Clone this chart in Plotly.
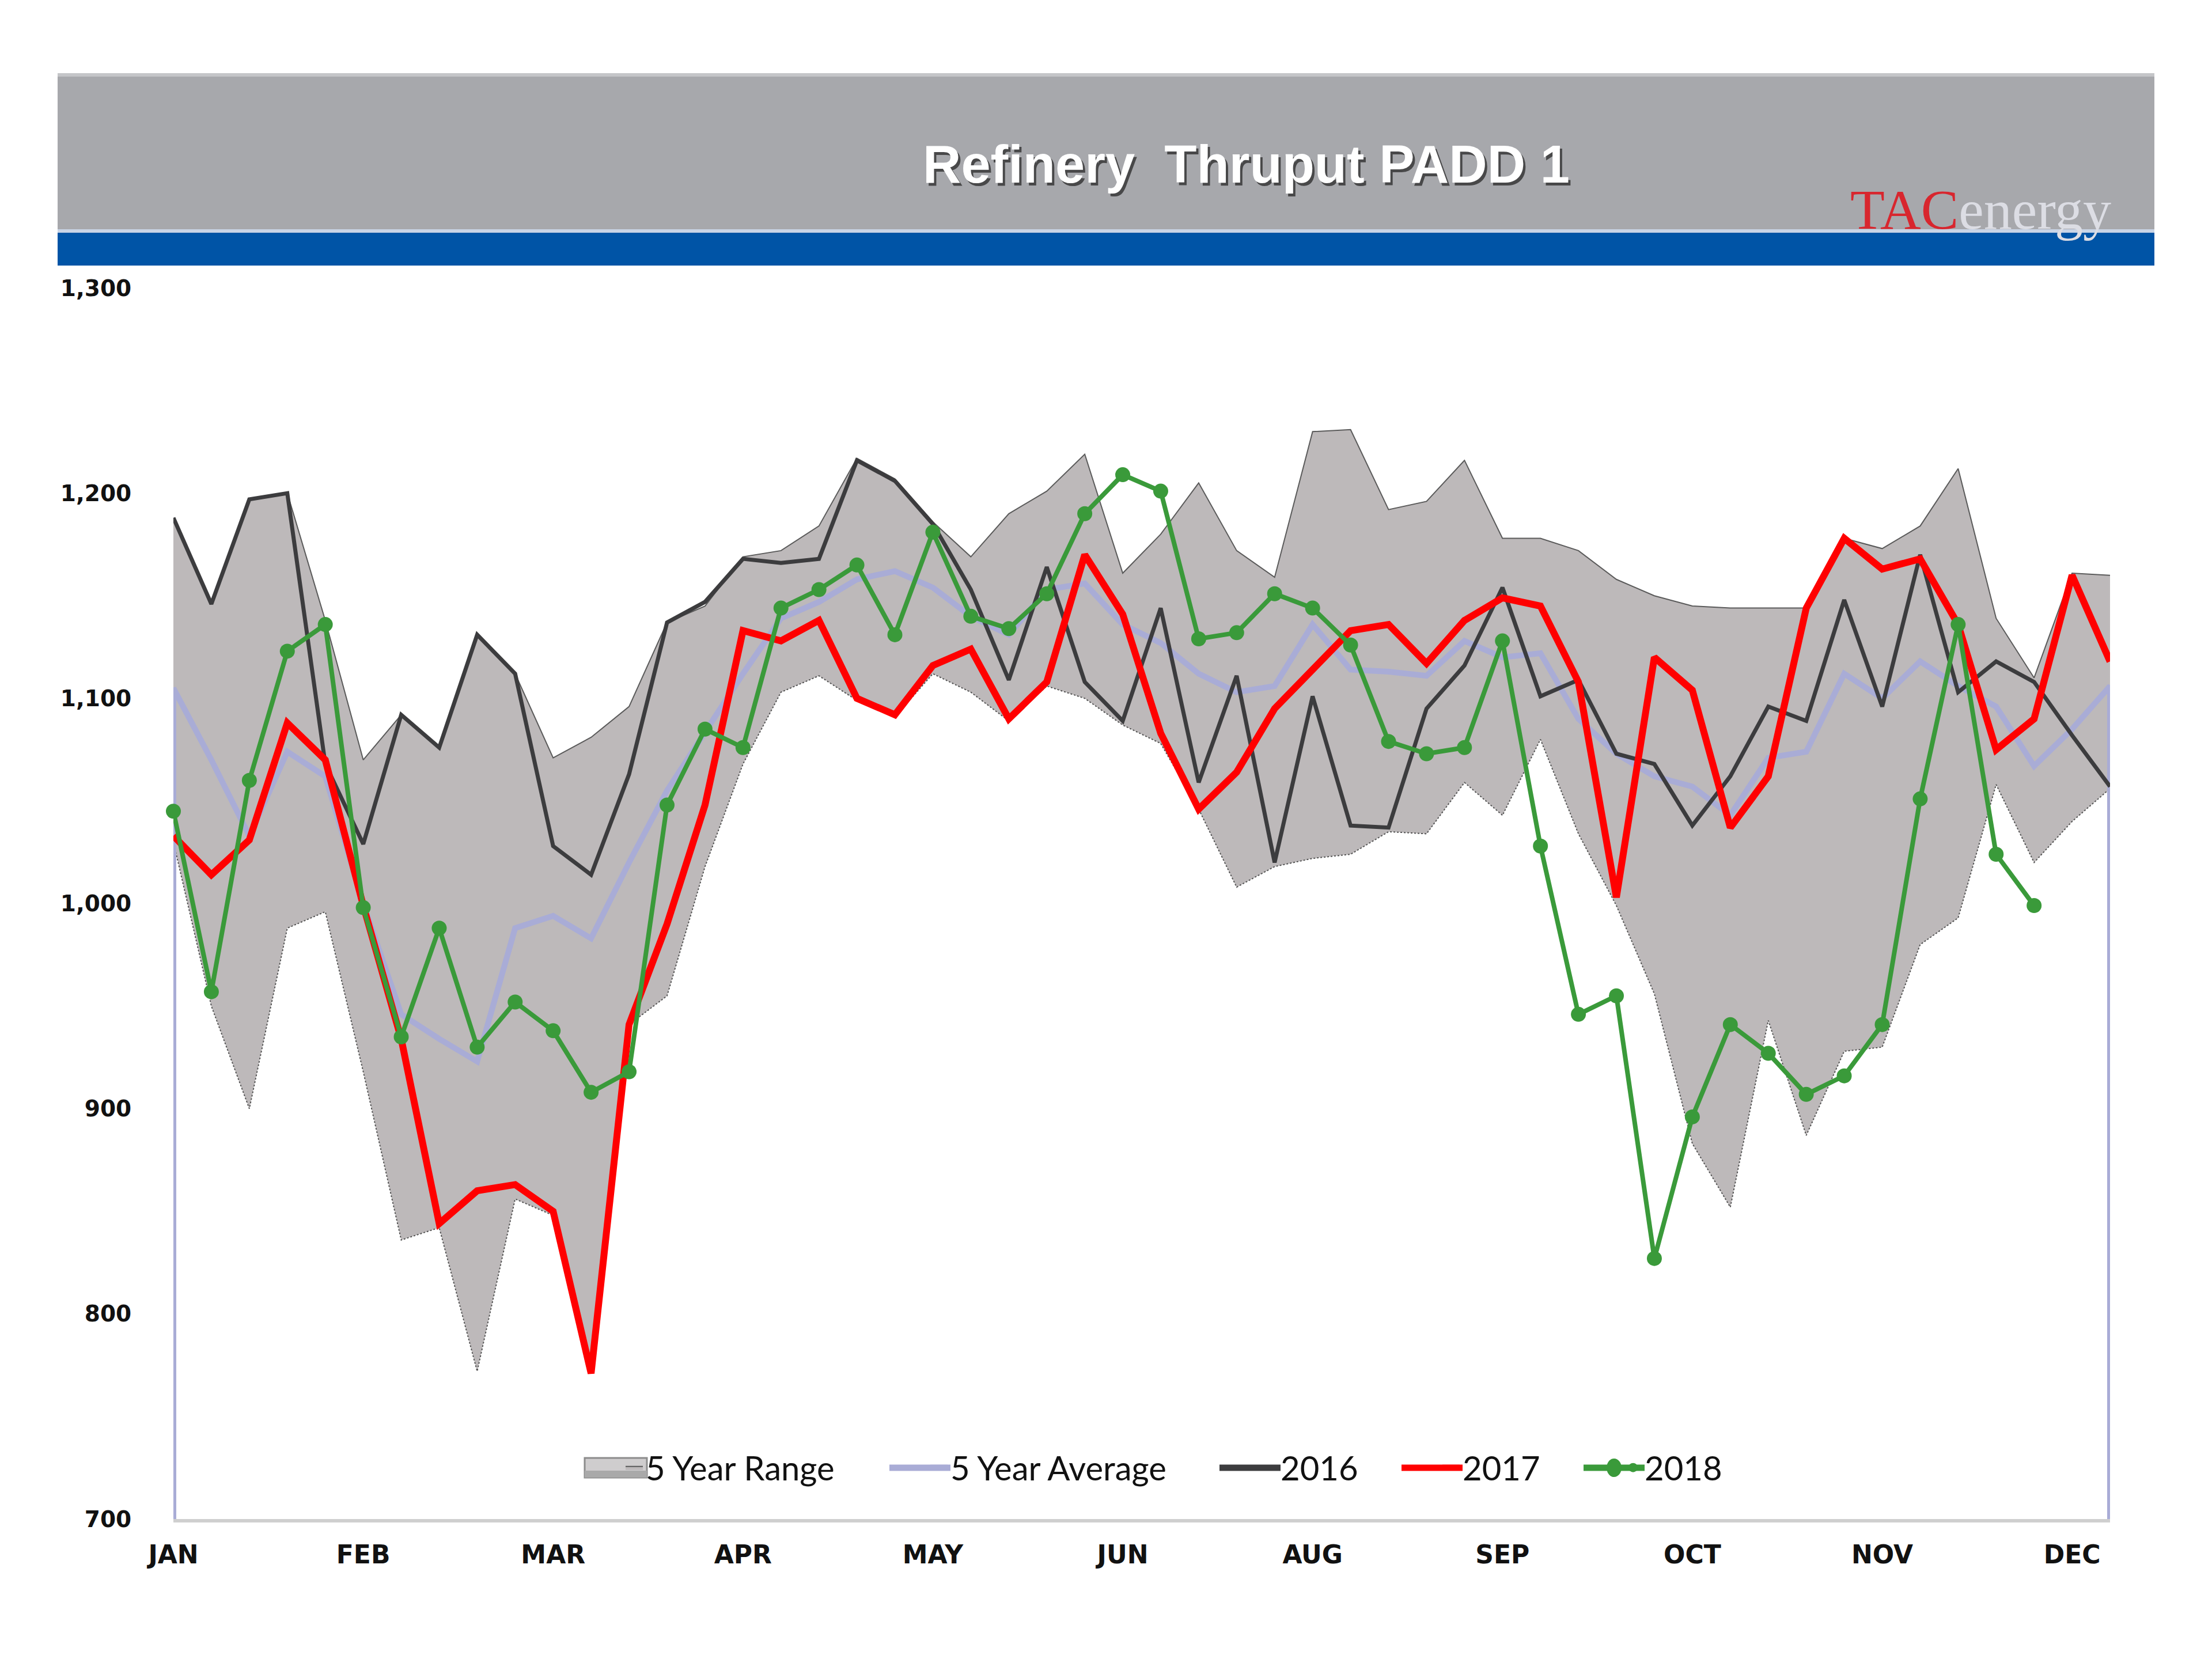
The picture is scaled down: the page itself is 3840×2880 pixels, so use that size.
import plotly.graph_objects as go

# ---------------- data (weekly, week index 0..51) ----------------
weeks = list(range(52))

range_low = [1030, 950, 900, 988, 996, 918, 836, 842, 772, 856,
             848, 771, 941, 955, 1018, 1068, 1103, 1111, 1099, 1091,
             1112, 1103, 1089, 1106, 1100, 1087, 1078, 1046, 1008, 1018,
             1022, 1024, 1035, 1034, 1059, 1043, 1080, 1034, 999, 956,
             883, 852, 943, 887, 928, 930, 980, 993, 1058, 1020,
             1040, 1056]

range_high = [1188, 1146, 1197, 1200, 1138, 1070, 1092, 1076, 1131, 1112,
              1071, 1081, 1096, 1137, 1145, 1169, 1172, 1184, 1217, 1207,
              1186, 1169, 1190, 1201, 1219, 1161, 1180, 1205, 1172, 1159,
              1230, 1231, 1192, 1196, 1216, 1178, 1178, 1172, 1158, 1150,
              1145, 1144, 1144, 1144, 1178, 1173, 1184, 1212, 1139, 1110,
              1161, 1160]

avg_5yr = [1105, 1070, 1033, 1074, 1062, 1000, 946, 934, 923, 988,
           994, 983, 1020, 1055, 1084, 1112, 1139, 1147, 1158, 1162,
           1154, 1140, 1131, 1153, 1156, 1136, 1127, 1112, 1103, 1106,
           1136, 1114, 1113, 1111, 1128, 1120, 1122, 1090, 1073, 1062,
           1057, 1043, 1071, 1074, 1112, 1100, 1118, 1106, 1096, 1067,
           1085, 1106]

y2016 = [1188, 1146, 1197, 1200, 1068, 1029, 1092, 1076, 1131, 1112,
         1028, 1014, 1063, 1137, 1147, 1168, 1166, 1168, 1216, 1206,
         1185, 1153, 1109, 1164, 1108, 1089, 1144, 1059, 1111, 1020,
         1101, 1038, 1037, 1095, 1116, 1154, 1101, 1109, 1073, 1068,
         1038, 1062, 1096, 1089, 1148, 1096, 1170, 1103, 1118, 1108,
         1082, 1057]

y2017 = [1033, 1014, 1031, 1088, 1070, 999, 934, 844, 860, 863,
         850, 771, 941, 990, 1048, 1133, 1128, 1138, 1100, 1092,
         1116, 1124, 1090, 1108, 1170, 1141, 1083, 1046, 1064, 1095,
         1114, 1133, 1136, 1117, 1138, 1149, 1145, 1108, 1003, 1120,
         1104, 1037, 1062, 1144, 1178, 1163, 1168, 1136, 1075, 1090,
         1160, 1118]

y2018 = [1045, 957, 1060, 1123, 1136, 998, 935, 988, 930, 952,
         938, 908, 918, 1048, 1085, 1076, 1144, 1153, 1165, 1131,
         1181, 1140, 1134, 1151, 1190, 1209, 1201, 1129, 1132, 1151,
         1144, 1126, 1079, 1073, 1076, 1128, 1028, 946, 955, 827,
         896, 941, 927, 907, 916, 941, 1051, 1136, 1024, 999]

tick_weeks = [0, 5, 10, 15, 20, 25, 30, 35, 40, 45, 50]
tick_labels = ["JAN", "FEB", "MAR", "APR", "MAY", "JUN", "AUG", "SEP", "OCT", "NOV", "DEC"]

Y_MIN, Y_MAX = 700, 1300
y_ticks = [700, 800, 900, 1000, 1100, 1200, 1300]

# ---------------- styles ----------------
C_RANGE = "#bdb9ba"
C_AVG = "#a9acd6"
C_2016 = "#3c3c3e"
C_2017 = "#ff0000"
C_2018 = "#3a9a3a"

# ---------------- geometry (screen px; page has an 8px body margin) ----------------
OFF = 8
W, H = 3840, 2880
SL, SR, ST, SB = 301, 3663, 500, 2637          # plot area edges on screen
L, T = SL - OFF, ST - OFF
R, B = W - (SR - OFF), H - (SB - OFF)
pw, ph = SR - SL, SB - ST


def px_x(sx):
    return (sx - SL) / pw


def px_y(sy):
    return (SB - sy) / ph


fig = go.Figure()

# 5 year range (band)
fig.add_trace(go.Scatter(
    x=weeks, y=range_low, mode="lines",
    line=dict(color="rgba(70,70,70,0.9)", width=2, dash="dot"),
    showlegend=False, hoverinfo="skip", cliponaxis=False))
fig.add_trace(go.Scatter(
    x=weeks, y=range_high, mode="lines", name="5 Year Range",
    fill="tonexty", fillcolor=C_RANGE,
    line=dict(color="#5a5a5a", width=2),
    legend="legend", cliponaxis=False))

# 5 year average (area-style vertical edges at both ends)
avg_x = [weeks[0]] + weeks + [weeks[-1]]
avg_y = [Y_MIN] + avg_5yr + [Y_MIN]
fig.add_trace(go.Scatter(
    x=avg_x, y=avg_y, mode="lines", name="5 Year Average",
    line=dict(color=C_AVG, width=10), legend="legend2", cliponaxis=False))

fig.add_trace(go.Scatter(
    x=weeks, y=y2016, mode="lines", name="2016",
    line=dict(color=C_2016, width=7), legend="legend3", cliponaxis=False))

fig.add_trace(go.Scatter(
    x=weeks, y=y2017, mode="lines", name="2017",
    line=dict(color=C_2017, width=12), legend="legend4", cliponaxis=False))

fig.add_trace(go.Scatter(
    x=weeks[:len(y2018)], y=y2018, mode="lines+markers", name="2018",
    line=dict(color=C_2018, width=8),
    marker=dict(color=C_2018, size=26, symbol="circle"),
    legend="legend5", cliponaxis=False))

# ---------------- header band ----------------
BX0, BX1 = 100, 3740
shapes = [
    dict(type="rect", xref="paper", yref="paper",
         x0=px_x(BX0), x1=px_x(BX1), y0=px_y(400), y1=px_y(127),
         fillcolor="#a7a8ac", line=dict(width=0), layer="below"),
    dict(type="rect", xref="paper", yref="paper",
         x0=px_x(BX0), x1=px_x(BX1), y0=px_y(133), y1=px_y(127),
         fillcolor="#c4c5c8", line=dict(width=0), layer="below"),
    dict(type="rect", xref="paper", yref="paper",
         x0=px_x(BX0), x1=px_x(BX1), y0=px_y(461), y1=px_y(400),
         fillcolor="#0054a6", line=dict(width=0), layer="below"),
    dict(type="rect", xref="paper", yref="paper",
         x0=px_x(BX0), x1=px_x(BX1), y0=px_y(404), y1=px_y(398),
         fillcolor="#c9d4e6", line=dict(width=0), layer="below"),
]

title_text = "Refinery\u00a0 Thruput PADD 1"
annotations = [
    dict(text=f"<b>{title_text}</b>", xref="paper", yref="paper",
         x=px_x(2167), y=px_y(290), xanchor="center", yanchor="middle",
         showarrow=False,
         font=dict(family="Liberation Sans", size=92, color="rgba(40,40,40,0.75)")),
    dict(text=f"<b>{title_text}</b>", xref="paper", yref="paper",
         x=px_x(2163), y=px_y(285), xanchor="center", yanchor="middle",
         showarrow=False,
         font=dict(family="Liberation Sans", size=92, color="#ffffff")),
    dict(text="<span style='color:#d8262e'>TAC</span><span style='color:#dcdde4'>energy</span>",
         xref="paper", yref="paper",
         x=px_x(3667), y=px_y(364), xanchor="right", yanchor="middle",
         showarrow=False,
         font=dict(family="Liberation Serif", size=98)),
]

# ---------------- legends: one per series, placed like the reference ----------------
legend_text_x = [1129, 1658, 2231, 2547, 2863]   # screen x where entry text starts
KEY_LEN = 104                                      # length of the long legend keys
LEG_Y = 2548
legend_font = dict(family="Lato", size=58, color="#111111")
legends = {}
for i, tx in enumerate(legend_text_x):
    key = "legend" if i == 0 else f"legend{i + 1}"
    legends[key] = dict(orientation="h", x=px_x(tx - 48), xanchor="left",
                        y=px_y(LEG_Y), yanchor="middle",
                        bgcolor="rgba(0,0,0,0)", font=legend_font)

# long legend keys (Excel style), drawn just left of each entry text
k0, k1 = legend_text_x[0] - KEY_LEN - 10, legend_text_x[0] - 6
shapes.append(dict(type="rect", xref="paper", yref="paper",
                   x0=px_x(k0), x1=px_x(k1), y0=px_y(LEG_Y + 17), y1=px_y(LEG_Y - 17),
                   fillcolor="#cfcdce", line=dict(color="#8c8c8c", width=3)))
shapes.append(dict(type="rect", xref="paper", yref="paper",
                   x0=px_x(k0), x1=px_x(k1), y0=px_y(LEG_Y + 17), y1=px_y(LEG_Y + 5),
                   fillcolor="#a9a9a9", line=dict(width=0)))
for tx, col in zip(legend_text_x[1:], [C_AVG, C_2016, C_2017, C_2018]):
    shapes.append(dict(type="line", xref="paper", yref="paper",
                       x0=px_x(tx - KEY_LEN - 10), x1=px_x(tx - 8),
                       y0=px_y(LEG_Y), y1=px_y(LEG_Y),
                       line=dict(color=col, width=11)))
mx = legend_text_x[4] - KEY_LEN / 2 - 9
shapes.append(dict(type="circle", xref="paper", yref="paper",
                   x0=px_x(mx - 13), x1=px_x(mx + 13),
                   y0=px_y(LEG_Y + 16), y1=px_y(LEG_Y - 16),
                   fillcolor=C_2018, line=dict(width=0)))

fig.update_layout(
    width=W, height=H,
    margin=dict(l=L, r=R, t=T, b=B),
    paper_bgcolor="white", plot_bgcolor="white",
    shapes=shapes, annotations=annotations,
    showlegend=True,
    xaxis=dict(range=[0, 51], tickmode="array", tickvals=tick_weeks,
               ticktext=tick_labels, showgrid=False, zeroline=False,
               showline=True, linecolor="#cfcfcf", linewidth=6,
               ticks="outside", ticklen=18, tickcolor="rgba(0,0,0,0)",
               tickfont=dict(family="DejaVu Sans", size=44, color="#111111", weight="bold")),
    yaxis=dict(range=[Y_MIN, Y_MAX], tickmode="array", tickvals=y_ticks,
               showgrid=False, zeroline=False, showline=False,
               tickformat=",d",
               ticks="outside", ticklen=64, tickcolor="rgba(0,0,0,0)",
               tickfont=dict(family="DejaVu Sans", size=39, color="#111111", weight="bold")),
    **legends,
)

fig.write_html("out.html")
